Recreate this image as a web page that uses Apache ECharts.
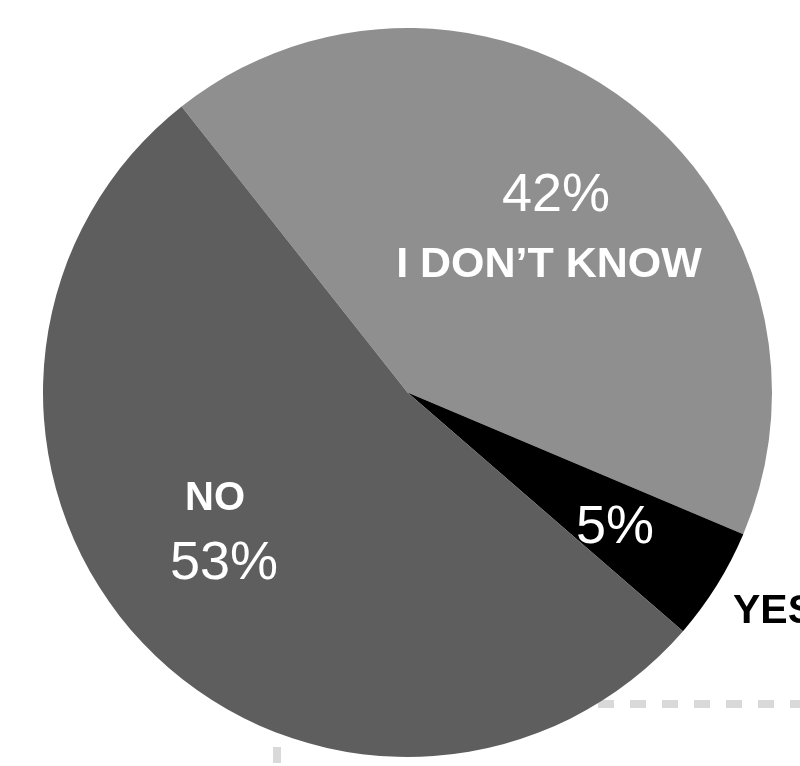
<!DOCTYPE html>
<html>
<head>
<meta charset="utf-8">
<script src="https://cdn.jsdelivr.net/npm/echarts@6/dist/echarts.min.js"></script>
<style>
html,body{margin:0;padding:0;background:#fff;}
#chart{width:800px;height:766px;}
</style>
</head>
<body>
<div id="chart"></div>
<script>
var categories = ['I DON\u2019T KNOW', 'YES', 'NO'];
var values = [42, 5, 53];
var sliceColors = ['#8f8f8f', '#000000', '#5e5e5e'];

// label anchor positions (pixels) for percentage labels and name labels
var pctPos = [[556, 196], [615, 528], [224, 564]];
var namePos = [[549, 265], [733, 612], [215, 499]];
var nameAlign = ['center', 'left', 'center'];
var nameColor = ['#ffffff', '#000000', '#ffffff'];
var nameSize = [43, 41, 40];

var chart = echarts.init(document.getElementById('chart'));

var pieData = categories.map(function (c, i) {
  return { name: c, value: values[i], itemStyle: { color: sliceColors[i] } };
});

var nameData = categories.map(function (c, i) {
  return {
    name: c, value: values[i],
    label: { color: nameColor[i], fontSize: nameSize[i] }
  };
});

var option = {
  animation: false,
  backgroundColor: '#ffffff',
  graphic: [
    {
      type: 'line', z: 0,
      shape: { x1: 566, y1: 704, x2: 800, y2: 704 },
      style: { stroke: '#d9d9d9', lineWidth: 8, lineDash: [16, 16] }
    },
    {
      type: 'line', z: 0,
      shape: { x1: 277, y1: 715, x2: 277, y2: 766 },
      style: { stroke: '#d9d9d9', lineWidth: 8, lineDash: [16, 16] }
    }
  ],
  series: [
    {
      type: 'pie',
      z: 2,
      center: [407.5, 392.5],
      radius: [0, 364.5],
      startAngle: 128.3,
      clockwise: true,
      silent: true,
      itemStyle: { borderWidth: 0 },
      labelLine: { show: false },
      label: {
        show: true,
        position: 'inside',
        formatter: function (p) { return p.value + '%'; },
        color: '#ffffff',
        fontFamily: 'Liberation Sans, Arial, sans-serif',
        fontWeight: 'normal',
        fontSize: 54
      },
      labelLayout: function (p) {
        var pos = pctPos[p.dataIndex];
        return { x: pos[0], y: pos[1], align: 'center', verticalAlign: 'middle' };
      },
      data: pieData
    },
    {
      type: 'pie',
      z: 3,
      center: [407.5, 392.5],
      radius: [0, 364.5],
      startAngle: 128.3,
      clockwise: true,
      silent: true,
      itemStyle: { color: 'rgba(0,0,0,0)', borderWidth: 0 },
      emphasis: { disabled: true },
      labelLine: { show: false },
      label: {
        show: true,
        position: 'inside',
        formatter: '{b}',
        fontFamily: 'Liberation Sans, Arial, sans-serif',
        fontWeight: 'bold',
        fontSize: 40
      },
      labelLayout: function (p) {
        var pos = namePos[p.dataIndex];
        return { x: pos[0], y: pos[1], align: nameAlign[p.dataIndex], verticalAlign: 'middle' };
      },
      data: nameData
    }
  ]
};
chart.setOption(option);
</script>
</body>
</html>
